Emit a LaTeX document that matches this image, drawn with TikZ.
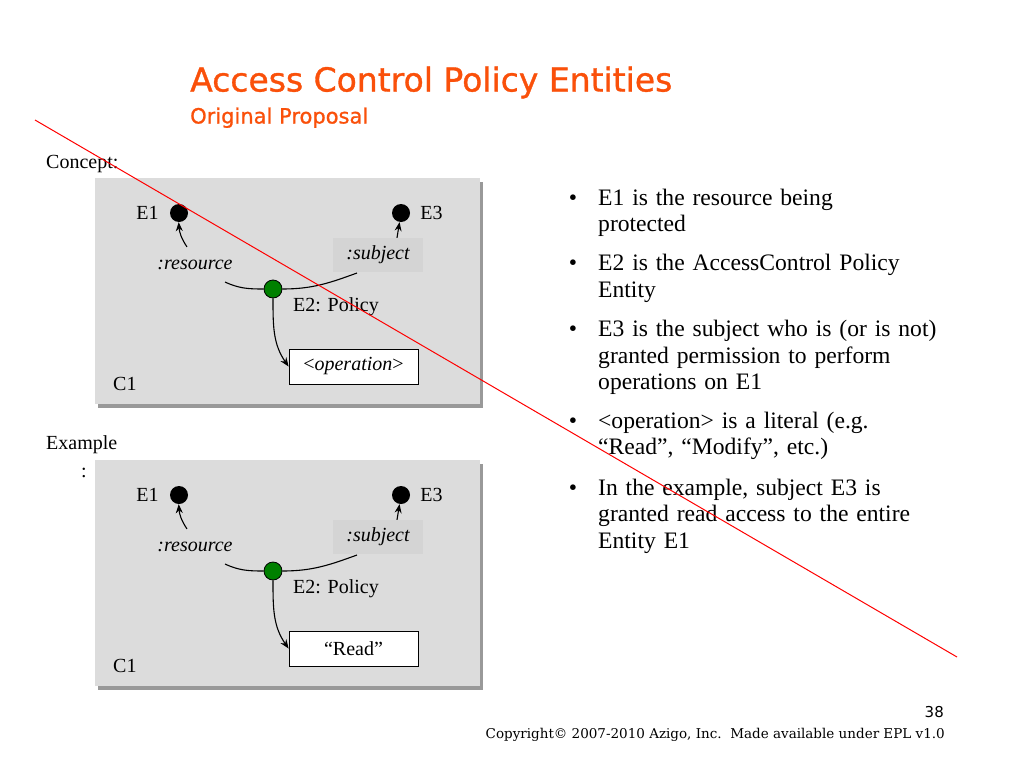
\documentclass[tikz,border=0pt]{standalone}
\usepackage{fontspec}
\setmainfont{Liberation Serif}
\newfontfamily\headfont[FakeBold=1]{DejaVu Sans}
\newfontfamily\pagefont{DejaVu Sans}
\newfontfamily\notefont{DejaVu Serif}
\usepackage{xcolor}
\usetikzlibrary{arrows.meta,positioning,shadows}
\definecolor{slideorange}{RGB}{250,80,10}
\definecolor{panelgray}{RGB}{220,220,220}
\definecolor{policygreen}{RGB}{0,128,0}

\begin{document}
\begin{tikzpicture}[
    x=1pt, y=1pt,
    font=\fontsize{20}{24}\selectfont,
    panel/.style={fill=panelgray, minimum width=385pt, minimum height=226pt, inner sep=0pt,
                  drop shadow={shadow xshift=3pt, shadow yshift=-4pt, fill=black!50, opacity=.8}},
    entity/.style={circle, fill=black, minimum size=18pt, inner sep=0pt},
    policy/.style={entity, fill=policygreen, draw=black, line width=.8pt},
    role/.style={font=\fontsize{20}{24}\selectfont\itshape, inner sep=1pt},
    literal/.style={draw, fill=white, line width=.8pt, minimum width=129pt,
                    minimum height=35pt, inner sep=0pt},
    plain/.style={inner sep=0pt},
    bullet/.style={anchor=base west, text width=370pt, align=left, inner sep=0pt,
                   font=\fontsize{23.6}{26.6}\selectfont},
    link/.style={-{Stealth[length=9pt,width=7pt]}, line width=1.1pt},
    ]
\useasboundingbox (0,0) rectangle (1024,-768);
\fill[white] (0,0) rectangle (1024,-768);

% heading
\node[plain, anchor=base west, text=slideorange, font=\headfont\fontsize{33}{36}\selectfont]
     (title) at (190,-91.5) {Access Control Policy Entities};
\node[plain, anchor=base west, text=slideorange, font=\headfont\fontsize{21}{24}\selectfont]
     (subtitle) at (190,-123.5) {Original Proposal};

\node[plain, anchor=base west] (concept) at (46,-168) {Concept:};
\node[plain, anchor=base west] (example) at (46,-449) {Example};
\node[plain, anchor=base] (examplecolon) at (84,-477) {:};

% the two panels (concept and example)
\foreach \p/\dy/\lit in {c/0/{<\textit{operation}>}, x/282/{“Read”}} {
\begin{scope}[yshift=-\dy]
\node[panel] (c1-\p) at (287.5,-291) {};
\node[plain, anchor=base west] (c1lab-\p) at (113,-390) {C1};
\node[entity] (e1-\p) at (179,-213) {};
\node[entity] (e3-\p) at (401,-213) {};
\node[plain, left=11pt of e1-\p] (e1lab-\p) {E1};
\node[plain, right=10pt of e3-\p] (e3lab-\p) {E3};
\node[role] (res-\p) at (195,-265) {:resource};
\node[role, fill=black!17, minimum width=90pt, minimum height=34pt] (sub-\p) at (378,-255) {:subject};
\node[policy] (e2-\p) at (273,-289) {};
\node[plain, anchor=west] (e2lab-\p) at (293,-307) {E2: Policy};
\node[literal] (lit-\p) at (353.5,-366.5) {\lit};
\coordinate (arcl-\p) at (225,-282);
\coordinate (arcr-\p) at (357,-273);
\draw[line width=1.1pt] (arcl-\p) to[out=-25,in=180] (e2-\p.west);
\draw[line width=1.1pt] (e2-\p.east) to[out=0,in=200] (arcr-\p);
\draw[link] ([xshift=-8pt,yshift=12pt]res-\p.north) to[bend left=15] (e1-\p);
\draw[link] ([xshift=19pt]sub-\p.north) -- (e3-\p);
\draw[link] (e2-\p) to[out=-90,in=125] (lit-\p.west);
\end{scope}
}

% bullet list
\node[bullet] (b1) at (598,-205) {\llap{\textbullet\hspace{21pt}}E1 is the resource being\\protected};
\node[bullet] (b2) at (598,-270.7) {\llap{\textbullet\hspace{21pt}}E2 is the AccessControl Policy\\Entity};
\node[bullet] (b3) at (598,-336.7) {\llap{\textbullet\hspace{21pt}}E3 is the subject who is (or is not)\\granted permission to perform\\operations on E1};
\node[bullet] (b4) at (598,-428.3) {\llap{\textbullet\hspace{21pt}}<operation> is a literal (e.g.\\“Read”, “Modify”, etc.)};
\node[bullet] (b5) at (598,-495) {\llap{\textbullet\hspace{21pt}}In the example, subject E3 is\\granted read access to the entire\\Entity E1};

% footer
\node[plain, anchor=base east, font=\pagefont\fontsize{15}{16}\selectfont] (page) at (944,-717) {38};
\node[plain, anchor=base east, font=\notefont\fontsize{13.5}{16}\selectfont]
     (copyright) at (945,-738) {Copyright© 2007-2010 Azigo, Inc.\ \ Made available under EPL v1.0};

% red strike line across the slide
\coordinate (strikeA) at (35,-120);
\coordinate (strikeB) at (957,-657);
\draw[red, line width=1pt] (strikeA) -- (strikeB);
\end{tikzpicture}
\end{document}
